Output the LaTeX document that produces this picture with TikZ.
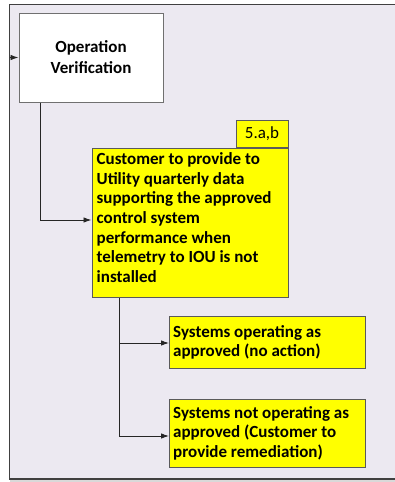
\documentclass[tikz,border=0pt]{standalone}
\usepackage{fontspec}
\setmainfont{Carlito}
\usetikzlibrary{arrows.meta}
\definecolor{bgl}{HTML}{ECE9F1}
\definecolor{frame}{HTML}{404040}
\definecolor{boxline}{HTML}{707070}
\definecolor{yel}{HTML}{FFFF00}
\tikzset{
  wbox/.style={draw=boxline, line width=1pt, fill=white, minimum width=144pt, minimum height=89pt, align=center, font=\bfseries\fontsize{17}{21}\selectfont, inner sep=0pt},
  ybox/.style={draw=boxline!80!black, line width=1pt, fill=yel, anchor=north west, inner sep=0pt},
  ytext/.style={anchor=north west, align=left, inner sep=0pt, font=\bfseries\fontsize{17}{19.6}\selectfont},
  conn/.style={draw=black!85, line width=0.9pt},
  arr/.style={conn, -{Latex[length=8pt,width=5.5pt]}},
}
\begin{document}
\begin{tikzpicture}[x=1pt,y=-1pt]
\useasboundingbox (0,0) rectangle (395,482);
% background frame
\fill[bgl] (9.5,4.5) rectangle (395,479);
\fill[black!15] (9.5,479) rectangle (395,482);
\draw[frame, line width=1.6pt] (395,4.5) -- (9.5,4.5) -- (9.5,479) -- (395,479);
% Operation Verification
\node[wbox] (ov) at (91,57.5) {Operation\\Verification};
\coordinate (inov) at (9.5,57.5);
\draw[arr] (inov) -- (ov.west);
% main yellow box
\node[ybox, minimum width=196pt, minimum height=149pt] (main) at (91.5,148) {};
\node[ytext] (maintext) at (96.5,152.5) {Customer to provide to\\Utility quarterly data\\supporting the approved\\control system\\performance when\\telemetry to IOU is not\\installed};
\node[draw=boxline!80!black, line width=1pt, fill=yel, minimum width=52pt, minimum height=27pt, anchor=south east, inner sep=0pt, font=\fontsize{17}{19}\selectfont] (lbl) at (main.north east) {5.a,b};
\coordinate (c1) at (40,220);
\draw[arr] (ov.south -| c1) -- (c1) -- (main.west |- c1);
% branch boxes
\node[ybox, minimum width=196pt, minimum height=52pt] (b1) at (169,316) {};
\node[ytext] (b1t) at (173,325) {Systems operating as\\approved (no action)};
\node[ybox, minimum width=196pt, minimum height=68pt] (b2) at (169,399) {};
\node[ytext] (b2t) at (173,406) {Systems not operating as\\approved (Customer to\\provide remediation)};
\coordinate (c2) at (119,343);
\coordinate (c3) at (119,436);
\draw[conn] (main.south -| c2) -- (c3);
\draw[arr] (c2) -- (b1.west |- c2);
\draw[arr] (c3) -- (b2.west |- c3);
\end{tikzpicture}
\end{document}
